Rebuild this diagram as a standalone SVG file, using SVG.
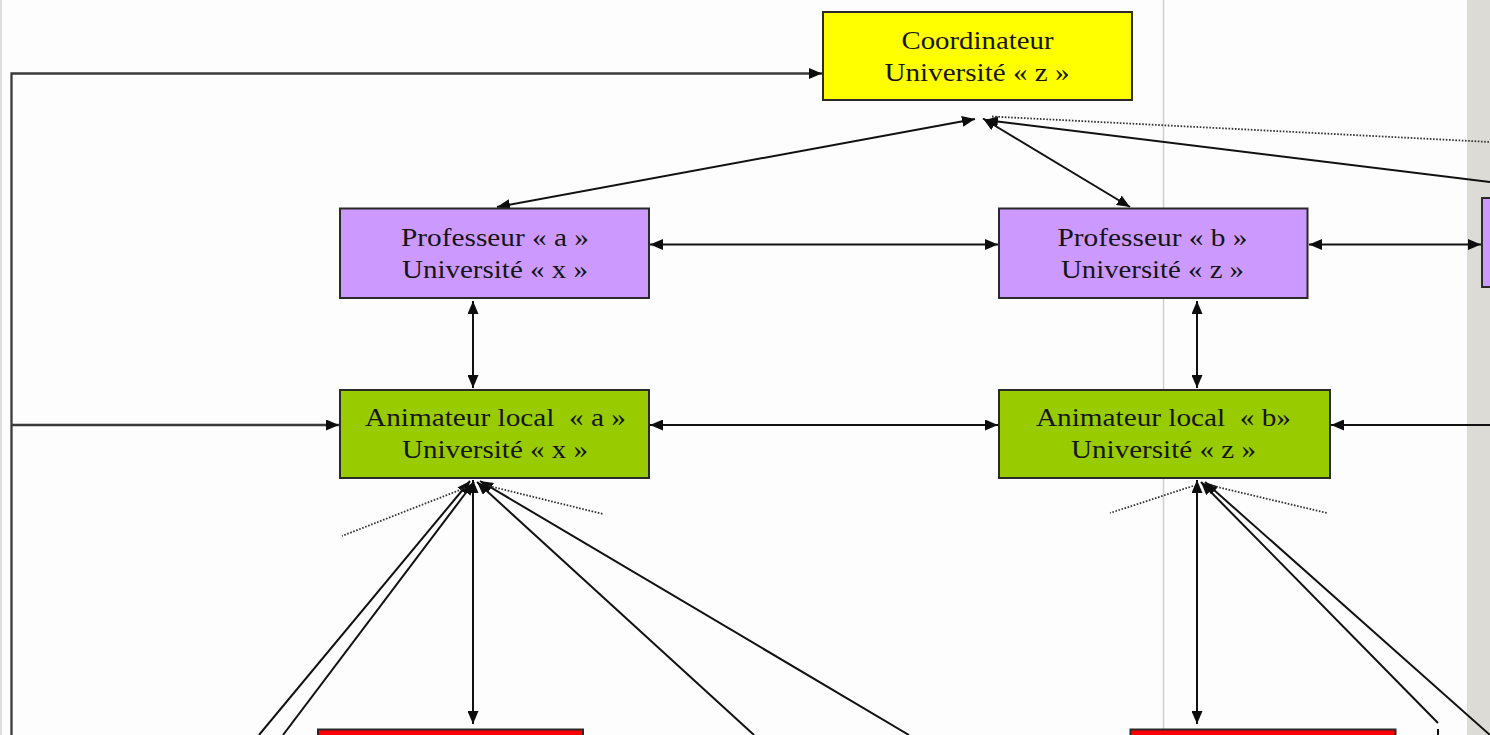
<svg xmlns="http://www.w3.org/2000/svg" width="1490" height="735" viewBox="0 0 1490 735">
<style>
.bg{fill:#fdfdfd}
.node{stroke:#2a2a2a;stroke-width:2}
.coord{fill:#ffff00}
.prof{fill:#cc99ff}
.anim{fill:#99cc00}
.red{fill:#ff0000}
.lbl{font-family:"Liberation Serif","Times New Roman",serif;font-size:25px;fill:#151515;text-anchor:middle;white-space:pre}
.c{fill:none;stroke:#111;stroke-width:2}
.bus{fill:none;stroke:#3a3a3a;stroke-width:2.3}
.dot{fill:none;stroke:#333;stroke-width:1.8;stroke-dasharray:1.6 1.6}
.both{marker-start:url(#ah);marker-end:url(#ah)}
.end{marker-end:url(#ah)}
.start{marker-start:url(#ah)}
</style>
<defs>
<marker id="ah" viewBox="0 0 13 11" refX="13" refY="5.5" markerWidth="13" markerHeight="11" markerUnits="userSpaceOnUse" orient="auto-start-reverse">
<path d="M0,0 L13,5.5 L0,11 z" fill="#0d0d0d"/>
</marker>
</defs>
<g id="background">
<rect class="bg" x="0" y="0" width="1490" height="735"/>
<rect x="0" y="0" width="2" height="735" fill="#dedede"/>
<rect x="1467" y="0" width="23" height="735" fill="#dcdbd5"/>
<line x1="1163.5" y1="0" x2="1163.5" y2="735" stroke="#cfcfcf" stroke-width="1.5"/>
</g>
<g id="connectors">
<path class="bus end" d="M11.5,735 V73.5 H822"/>
<path class="bus end" d="M11.5,425 H339"/>
<line class="c both" x1="497" y1="207" x2="975" y2="119"/>
<line class="c both" x1="983" y1="118.5" x2="1130" y2="207"/>
<line class="c end" x1="1490" y1="182" x2="985" y2="120"/>
<line class="dot" x1="992" y1="116.5" x2="1490" y2="142"/>
<line class="c both" x1="650" y1="244.5" x2="998" y2="244.5"/>
<line class="c both" x1="1309" y1="244.5" x2="1481" y2="244.5"/>
<line class="c both" x1="650" y1="425" x2="998" y2="425"/>
<line class="c end" x1="1490" y1="425" x2="1331" y2="425"/>
<line class="c both" x1="473" y1="301" x2="473" y2="388"/>
<line class="c both" x1="1197" y1="301" x2="1197" y2="388"/>
<line class="c both" x1="473" y1="480" x2="473" y2="724"/>
<line class="c both" x1="1197" y1="480" x2="1197" y2="724"/>
<line class="c start" x1="470" y1="481" x2="259" y2="735"/>
<line class="c start" x1="474" y1="482" x2="283" y2="735"/>
<line class="c start" x1="477" y1="482" x2="754" y2="735"/>
<line class="c start" x1="480" y1="481" x2="909" y2="735"/>
<line class="dot" x1="465" y1="488" x2="342" y2="536"/>
<line class="dot" x1="489" y1="486" x2="603" y2="514"/>
<line class="c start" x1="1201" y1="482" x2="1438" y2="723"/>
<line class="c start" x1="1205" y1="482" x2="1490" y2="735"/>
<line class="c" x1="1438" y1="729" x2="1438" y2="735"/>
<line class="dot" x1="1193" y1="486" x2="1110" y2="513"/>
<line class="dot" x1="1213" y1="486" x2="1327" y2="513"/>
</g>
<g id="coordinateur">
<rect class="node coord" x="823" y="12" width="309" height="88"/>
<text class="lbl" x="977.5" y="49" textLength="152" lengthAdjust="spacingAndGlyphs">Coordinateur</text>
<text class="lbl" x="977" y="81" textLength="185" lengthAdjust="spacingAndGlyphs">Université « z »</text>
</g>
<g id="professeur-a">
<rect class="node prof" x="340" y="208.5" width="309" height="89.5"/>
<text class="lbl" x="495" y="246" textLength="188" lengthAdjust="spacingAndGlyphs">Professeur « a »</text>
<text class="lbl" x="495" y="278" textLength="186" lengthAdjust="spacingAndGlyphs">Université « x »</text>
</g>
<g id="professeur-b">
<rect class="node prof" x="999" y="208.5" width="308.5" height="89.5"/>
<text class="lbl" x="1152.5" y="246" textLength="190" lengthAdjust="spacingAndGlyphs">Professeur « b »</text>
<text class="lbl" x="1152.5" y="278" textLength="183" lengthAdjust="spacingAndGlyphs">Université « z »</text>
</g>
<g id="professeur-c">
<rect class="node prof" x="1482" y="198" width="20" height="89"/>
</g>
<g id="animateur-a">
<rect class="node anim" x="340" y="390" width="309" height="88"/>
<text class="lbl" x="495.5" y="426" textLength="261" lengthAdjust="spacingAndGlyphs">Animateur local  « a »</text>
<text class="lbl" x="495" y="458" textLength="186" lengthAdjust="spacingAndGlyphs">Université « x »</text>
</g>
<g id="animateur-b">
<rect class="node anim" x="999" y="390" width="331" height="88"/>
<text class="lbl" x="1163.5" y="426" textLength="255" lengthAdjust="spacingAndGlyphs">Animateur local  « b»</text>
<text class="lbl" x="1163.5" y="458" textLength="185" lengthAdjust="spacingAndGlyphs">Université « z »</text>
</g>
<g id="groupe-a">
<rect class="node red" x="318" y="729.5" width="265" height="12"/>
</g>
<g id="groupe-b">
<rect class="node red" x="1130.5" y="729.5" width="265" height="12"/>
</g>
</svg>
